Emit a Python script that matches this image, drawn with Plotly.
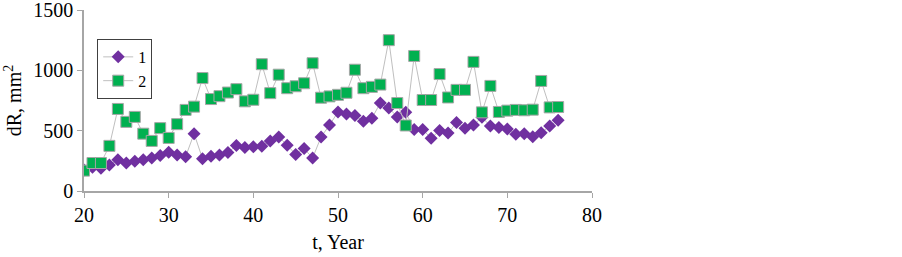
import plotly.graph_objects as go

years = list(range(20, 77))
series1 = [175, 197, 188, 216, 259, 232, 246, 259, 273, 295, 322, 298, 284, 475, 268, 287, 298, 319,
           377, 360, 366, 371, 415, 448, 380, 303, 352, 273, 448, 546, 655, 639, 625, 579, 603, 729,
           688, 614, 652, 510, 510, 437, 502, 480, 568, 521, 546, 612, 538, 527, 513, 470, 475, 450,
           483, 538, 587]
series2 = [169, 232, 232, 374, 680, 573, 614, 475, 415, 521, 440, 554, 672, 699, 936, 762, 786, 816,
           844, 743, 756, 1051, 811, 964, 852, 868, 893, 1059, 773, 784, 797, 814, 1005, 852, 863, 882,
           1250, 729, 543, 1119, 754, 754, 969, 775, 838, 838, 1070, 652, 871, 655, 666, 672, 669, 674,
           912, 693, 696]
names = ["1", "2"]
x_ticks = [20, 30, 40, 50, 60, 70, 80]
y_ticks = [0, 500, 1000, 1500]

fig = go.Figure()
fig.add_trace(go.Scatter(
    x=years, y=series1, name=names[0], mode="lines+markers",
    line=dict(color="#BFBFBF", width=1),
    marker=dict(symbol="diamond", size=10, color="#7030A0", line=dict(color="#7030A0", width=0)),
))
fig.add_trace(go.Scatter(
    x=years, y=series2, name=names[1], mode="lines+markers",
    line=dict(color="#BFBFBF", width=1),
    marker=dict(symbol="square", size=11, color="#00B050", line=dict(color="#A6A6A6", width=1)),
))

font = dict(family="Liberation Serif, Times New Roman, serif", size=20, color="#000000")
fig.update_layout(
    width=902, height=257,
    margin=dict(l=84, r=310, t=10, b=66, autoexpand=False),
    paper_bgcolor="white", plot_bgcolor="white",
    font=font,
    showlegend=True,
    legend=dict(x=0.026, y=0.84, xanchor="left", yanchor="top",
                bordercolor="#404040", borderwidth=1, bgcolor="white",
                font=dict(family="Liberation Serif, serif", size=16),
                itemwidth=30, tracegroupgap=0),
)
fig.update_xaxes(
    range=[20, 80], tickvals=x_ticks, showgrid=False, zeroline=False,
    showline=True, linecolor="#A6A6A6", linewidth=1.5,
    ticks="outside", ticklen=5, tickcolor="#A6A6A6",
    title=dict(text="t, Year", standoff=10, font=font),
    tickfont=font, automargin=False, ticklabeloverflow="allow",
)
fig.update_yaxes(
    range=[0, 1500], tickvals=y_ticks, showgrid=False, zeroline=False,
    showline=True, linecolor="#A6A6A6", linewidth=1.5,
    ticks="outside", ticklen=5, tickcolor="#A6A6A6",
    title=dict(text="dR, mm<sup>2</sup>", standoff=6, font=font),
    tickfont=font, automargin=False, ticklabeloverflow="allow",
)
fig.write_html("out.html", config={"displayModeBar": False},
               post_script="document.body.style.margin='0';")
